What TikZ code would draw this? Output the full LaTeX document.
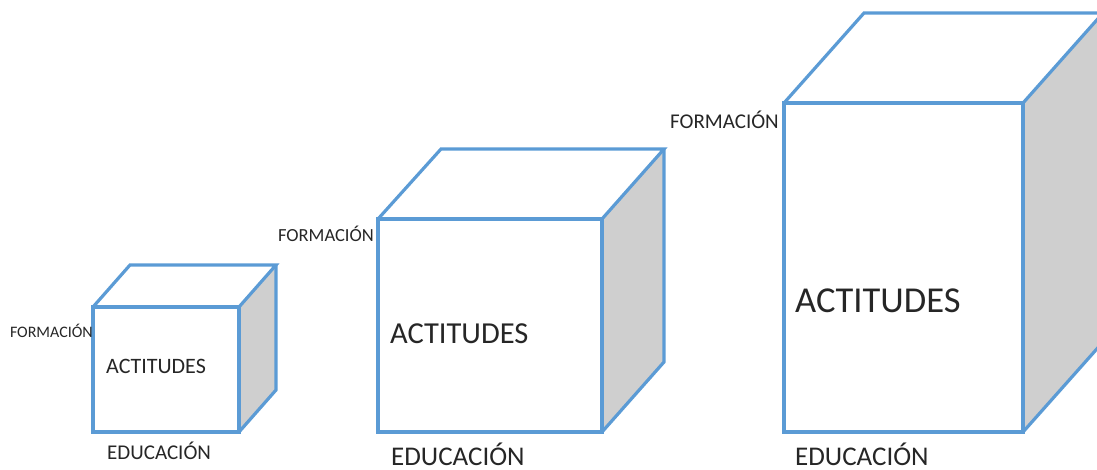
\documentclass[tikz,border=0pt]{standalone}
\usepackage{fontspec}
\setmainfont{Carlito}
\definecolor{azul}{HTML}{5B9BD5}
\definecolor{lado}{HTML}{CFCFCF}
\definecolor{letra}{HTML}{262626}
\begin{document}
\begin{tikzpicture}
[x=1pt, y=-1pt, arista/.style={draw=azul, line width=3.2pt}, lateral/.style={fill=lado}, rotulo/.style={inner sep=0pt, text=letra, font=\fontsize{#1}{#1}\selectfont}]
\useasboundingbox (0,0) rectangle (1097,470);
\clip (0,0) rectangle (1097,470);
\fill [lateral] (239,307) -- (276,265) -- (276,390) -- (239,432) -- cycle;
\draw [arista] (93,307) rectangle (239,432);
\draw [arista] (93,307) -- (130,265) -- (276,265) -- (239,307);
\draw [arista] (276,265) -- (276,390) -- (239,432);
\node (form1) [rotulo=16, anchor=base east] at (93,337) {FORMACIÓN};
\node (act1) [rotulo=22, anchor=base west] at (106,373) {ACTITUDES};
\node (edu1) [rotulo=21, anchor=base west] at (107,459) {EDUCACIÓN};
\fill [lateral] (602,219) -- (664,149) -- (664,362) -- (602,432) -- cycle;
\draw [arista] (378,219) rectangle (602,432);
\draw [arista] (378,219) -- (441,149) -- (664,149) -- (602,219);
\draw [arista] (664,149) -- (664,362) -- (602,432);
\node (form2) [rotulo=18.5, anchor=base east] at (374,242) {FORMACIÓN};
\node (act2) [rotulo=30.5, anchor=base west] at (390,343) {ACTITUDES};
\node (edu2) [rotulo=27, anchor=base west] at (391,465) {EDUCACIÓN};
\fill [lateral] (1023,103) -- (1103,13) -- (1103,342) -- (1023,432) -- cycle;
\draw [arista] (784,103) rectangle (1023,432);
\draw [arista] (784,103) -- (864,13) -- (1103,13) -- (1023,103);
\draw [arista] (1103,13) -- (1103,342) -- (1023,432);
\node (form3) [rotulo=21, anchor=base east] at (779,129) {FORMACIÓN};
\node (act3) [rotulo=36.5, anchor=base west] at (795,312) {ACTITUDES};
\node (edu3) [rotulo=27, anchor=base west] at (795,465) {EDUCACIÓN};
\end{tikzpicture}
\end{document}
